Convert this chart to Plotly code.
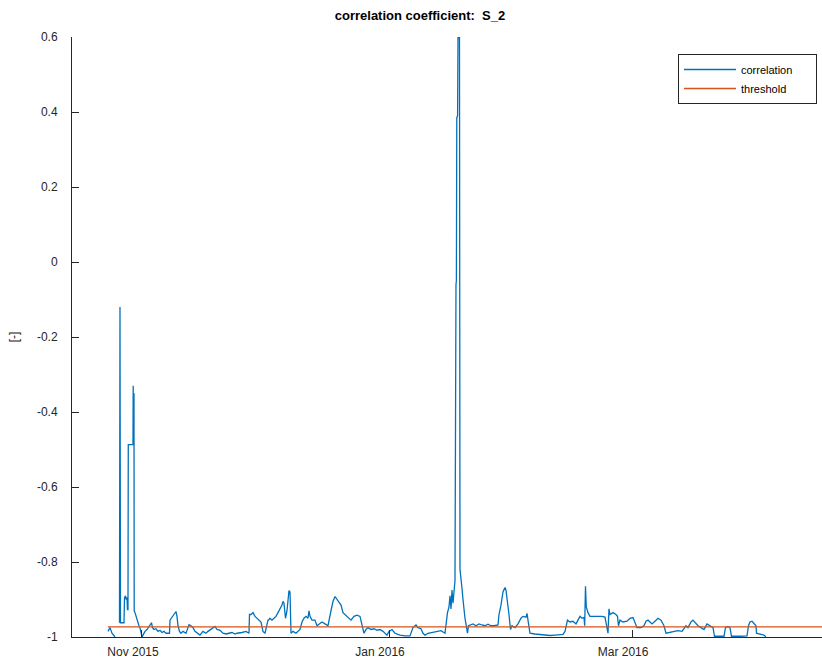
import pandas as pd
import plotly.graph_objects as go

# time in days relative to 2015-11-01 00:00, correlation values (None = data gap)
t_days = [
    -8.395, -7.901, -7.407, -6.914, -6.667, -6.3,
    -5.556, -5.432, -5.309, -4.444, -4.321, -4.074, -3.951, -3.704, -3.580, -3.457, -3.383,
    -2.222, -2.173, -2.123, -2.074, -2.025, -1.975, -1.926, -1.728, -1.481, -1.235, -0.988,
    -0.741, -0.494, -0.247, 0.0, 0.247, 0.741, 1.235, 1.728, 1.975, 2.346, 2.593, 2.963,
    3.457, 3.951, 4.444, 4.938, 5.432, 5.926, 6.420, 6.790, 6.914, 7.407, 7.901, 8.395,
    8.642, 8.889, 9.259, 9.630, 10.123, 10.864, 11.358, 11.605, 12.099, 12.593, 13.086,
    13.580, 14.321, 15.062, 15.802, 16.296, 17.778, 18.025, 18.518, 19.259, 20.000, 20.741,
    21.481, 22.222, 22.963, 23.457, 24.691, 25.679, 26.420, 26.543, 26.913, 27.407, 27.901,
    28.395, 28.889, 29.383, 29.876, 30.370, 31.111, 31.234, 31.605, 32.099, 32.592, 33.086,
    33.580, 34.074, 34.567, 34.814, 35.061, 35.432, 35.802, 36.296, 36.543, 36.790, 37.283,
    38.024, 38.518, 39.012, 39.506, 39.999, 40.493, 40.987, 41.234, 41.481, 41.975, 42.715,
    43.209, 43.950, 44.444, 45.185, 45.925, 46.666, 47.160, 47.654, 48.147, 48.641, 49.135,
    49.629, 50.123, 50.863, 51.604, 52.345, 53.086, 53.826, 54.320, 54.814, 55.308, 55.802,
    56.542, 57.283, 58.024, 58.765, 59.505, 60.493, 60.987, 61.728, 62.468, 63.703, 64.937,
    66.172, 66.913, 67.653, 68.147, 68.888, 69.382, 69.876, 70.616, 71.851, 72.838, 73.826,
    74.814, 75.061, 75.431, 75.801, 76.048, 76.295, 76.542, 76.789, 77.036, 77.283, 77.530,
    77.629, 77.727, 77.925, 78.024, 78.394, 78.517, 78.764, 79.011, 79.258, 79.505, 79.752,
    79.999, 80.369, 80.616, 80.986, 81.727, 82.468, 83.209, 83.949, 84.690, 85.431, 86.172,
    86.912, 87.900, 88.147, 88.640, 89.134, 89.628, 89.875, 90.369, 90.616, 90.986, 91.357,
    92.097, 92.838, 93.579, 94.073, 94.813, 95.060, 95.307, 95.554, 95.801, 97.036, 98.270,
    99.505, 100.739, 101.974, 103.208, 103.949, 104.443, 104.690, 105.060, 105.677, 106.418,
    107.159, 107.653, 108.147, 108.640, 109.134, 109.307, 109.505, 109.702, 110.122, 110.616,
    111.603, 112.591, 113.579, 114.320, 114.690, 115.060, 115.307, 115.554, 116.295, 117.035,
    117.406, 117.653, 118.023, 118.764, 119.752, 120.492, 121.233, 121.727, 122.220, 123.208,
    123.949, 124.443, 124.936, 125.430, 125.924, 126.665, 127.406, 128.146, 128.887, 129.381,
    130.122, 131.109, 132.344, 133.331, 133.825, 134.319, 134.813, 135.554, 136.047, 136.541,
    137.282, 138.023, 138.763, 139.504, 140.245, 140.986, 141.356, 142.220, 143.702, 144.072,
    144.689, 145.183, 145.553, 147.652, 149.381, 149.751, 150.121, 150.615, 151.109, 151.603,
    151.726, 152.590, 153.578, 154.072,
]

corr = [
    -0.985, -0.975, -0.990, -0.995, -1.000, None,
    -0.962, -0.120, -0.962, -0.962, -0.896, -0.890, -0.900, -0.895, -0.927, -0.927, -0.487,
    -0.487, -0.330, -0.470, -0.330, -0.450, -0.350, -0.930, -0.935, -0.945, -0.955, -0.962,
    -0.970, -0.975, -0.990, -1.000, -0.995, -0.985, -0.980, -0.972, -0.970, -0.962, -0.975,
    -0.980, -0.978, -0.985, -0.982, -0.988, -0.985, -0.990, -0.990, -0.990, -0.955, -0.948,
    -0.940, -0.932, -0.945, -0.970, -0.985, -0.990, -0.985, -0.990, -0.975, -0.967, -0.970,
    -0.975, -0.985, -0.990, -0.995, -0.985, -0.990, -0.985, -0.975, -0.972, -0.980, -0.982,
    -0.990, -0.992, -0.990, -0.988, -0.992, -0.990, -0.988, -0.985, -0.990, -0.940, -0.940,
    -0.935, -0.945, -0.950, -0.955, -0.960, -0.985, -0.990, -0.955, -0.955, -0.950, -0.955,
    -0.950, -0.945, -0.935, -0.925, -0.915, -0.905, -0.910, -0.950, -0.930, -0.876, -0.880,
    -0.990, -0.985, -0.990, -0.985, -0.980, -0.960, -0.950, -0.945, -0.950, -0.930, -0.945,
    -0.955, -0.955, -0.970, -0.965, -0.960, -0.965, -0.970, -0.930, -0.905, -0.892, -0.900,
    -0.910, -0.915, -0.935, -0.940, -0.950, -0.955, -0.945, -0.942, -0.945, -0.970, -0.990,
    -0.980, -0.975, -0.980, -0.978, -0.982, -0.980, -0.985, -0.995, -0.985, -0.980, -0.990,
    -0.995, -0.997, -0.997, -0.975, -0.968, -0.975, -0.978, -0.990, -0.995, -0.990, -0.988,
    -0.985, -0.983, -0.990, -0.960, -0.935, -0.920, -0.890, -0.925, -0.875, -0.910, -0.870,
    -0.850, -0.060, -0.050, 0.385, 0.390, 0.598, 0.598, -0.820, -0.840, -0.870, -0.900,
    -0.930, -0.950, -0.965, -0.990, -0.970, -0.968, -0.965, -0.970, -0.965, -0.968, -0.970,
    -0.966, -0.970, -0.970, -0.968, -0.940, -0.915, -0.880, -0.868, -0.875, -0.910, -0.940,
    -0.980, -0.970, -0.975, -0.965, -0.950, -0.945, -0.947, -0.937, -0.955, -0.975, -0.990,
    -0.992, -0.993, -0.996, -0.996, -0.995, -0.995, -0.993, -0.985, -0.972, -0.955, -0.960,
    -0.958, -0.965, -0.955, -0.945, -0.950, -0.948, -0.970, -0.865, -0.920, -0.935, -0.945,
    -0.945, -0.944, -0.945, -0.947, -0.968, -0.990, -0.925, -0.940, -0.935, -0.940, -0.945,
    -0.970, -0.955, -0.960, -0.958, -0.950, -0.948, -0.962, -0.975, -0.975, -0.970, -0.958,
    -0.955, -0.960, -0.965, -0.958, -0.950, -0.955, -0.970, -0.990, -0.988, -0.985, -0.983,
    -0.985, -0.978, -0.970, -0.975, -0.960, -0.955, -0.962, -0.970, -0.975, -0.980, -0.965,
    -0.970, -0.975, -0.998, -0.998, -0.998, -0.975, -0.972, -0.975, -0.998, -0.998, -0.997,
    -0.970, -0.960, -0.958, -0.965, -0.970, -0.990, -0.993, -0.995, -1.000,
]

threshold_days = [-8.4, 175.0]
threshold_value = -0.973

x_range_days = [-17.28, 167.9]
y_range = [-1.0, 0.6]

y_tickvals = [-1.0, -0.8, -0.6, -0.4, -0.2, 0.0, 0.2, 0.4, 0.6]
y_ticktext = ["-1", "-0.8", "-0.6", "-0.4", "-0.2", "0", "0.2", "0.4", "0.6"]
x_tickdates = ["2015-11-01", "2016-01-01", "2016-03-01"]
x_ticktext = ["Nov 2015", "Jan 2016", "Mar 2016"]

ref = pd.Timestamp("2015-11-01")
to_dates = lambda d: list(ref + pd.to_timedelta(d, unit="D"))

t_dates = to_dates(t_days)
thr_dates = to_dates(threshold_days)
xr = to_dates(x_range_days)

BLUE = "#0072BD"
ORANGE = "#D95319"
AX = "#262626"
FONT = "Liberation Sans, Arial, Helvetica, sans-serif"
PAD = "\u00a0" * 6

fig = go.Figure()
fig.add_trace(go.Scatter(x=t_dates, y=corr, mode="lines", name="correlation" + PAD,
                         line=dict(color=BLUE, width=1.3), connectgaps=False))
fig.add_trace(go.Scatter(x=thr_dates, y=[threshold_value] * len(thr_dates), mode="lines",
                         name="threshold", line=dict(color=ORANGE, width=1.3)))

fig.update_layout(
    width=822, height=662,
    margin=dict(l=72, r=0, t=37, b=25),
    plot_bgcolor="white", paper_bgcolor="white",
    font=dict(family=FONT, size=11, color=AX),
    title=dict(text="<b>correlation coefficient:  S_2</b>", x=(420 - 72) / 750, xref="paper",
               xanchor="center", y=1 - 15 / 662, yanchor="middle",
               font=dict(family=FONT, size=13, color="black")),
    showlegend=True,
    legend=dict(x=(817 - 72) / 750, xanchor="right", y=(637 - 54) / 600, yanchor="top",
                bgcolor="white", bordercolor=AX, borderwidth=1,
                font=dict(family=FONT, size=11, color="black"),
                tracegroupgap=0, itemwidth=52),
)
fig.update_xaxes(
    type="date", range=xr, showgrid=False, zeroline=False,
    showline=True, linecolor=AX, linewidth=1, mirror=False,
    ticks="inside", ticklen=7, tickcolor=AX,
    tickvals=x_tickdates, ticktext=x_ticktext, ticklabelshift=-9, ticklabelstandoff=4,
    tickfont=dict(family=FONT, size=12, color=AX),
)
fig.update_yaxes(
    range=y_range, showgrid=False, zeroline=False,
    showline=True, linecolor=AX, linewidth=1, mirror=False,
    ticks="inside", ticklen=7, tickcolor=AX,
    tickvals=y_tickvals, ticktext=y_ticktext, ticklabelstandoff=11,
    tickfont=dict(family=FONT, size=12, color=AX),
    title=dict(text="[-]", font=dict(family=FONT, size=12, color=AX), standoff=15),
)

fig.write_html("out.html")
